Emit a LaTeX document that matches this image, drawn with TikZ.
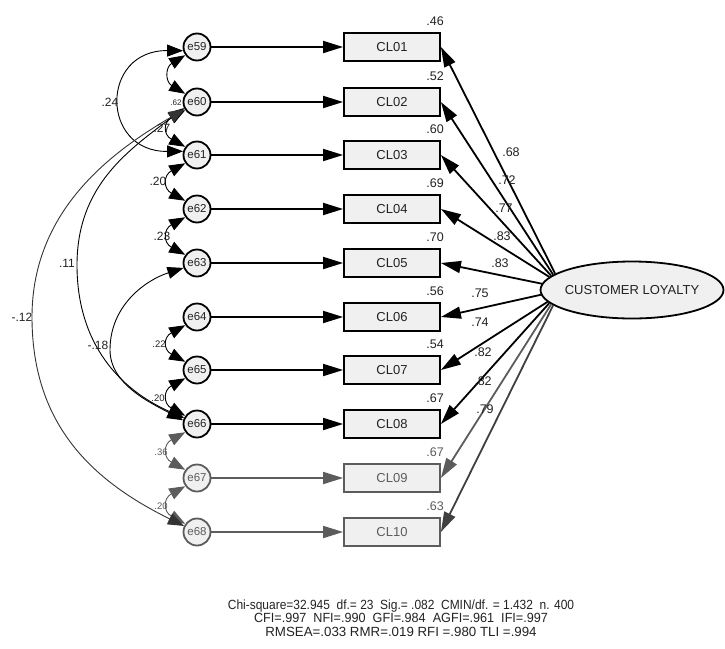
\documentclass[tikz,border=0pt]{standalone}
\usepackage{fontspec}
\setmainfont{Liberation Sans}
\usetikzlibrary{arrows.meta,shapes.geometric,calc}
\definecolor{boxfill}{HTML}{F0F0F0}
\definecolor{fade}{HTML}{5C5C5C}
\definecolor{txt}{HTML}{222222}
\begin{document}
\begin{tikzpicture}[x=1pt,y=-1pt,
  errc/.style={circle,draw,line width=1.8pt,fill=boxfill,minimum size=27pt,inner sep=0pt,text=txt,font=\fontsize{11.5}{12}\selectfont},
  obsbox/.style={rectangle,draw,line width=1.8pt,fill=boxfill,minimum width=96pt,minimum height=28pt,inner sep=0pt,text=txt,font=\fontsize{13}{14}\selectfont},
  reg/.style={line width=1.8pt,-{Triangle[length=20pt,width=12pt]}},
  cov/.style={line width=0.9pt,{Triangle[length=16pt,width=12pt]}-{Triangle[length=16pt,width=12pt]}},
  lab/.style={font=\fontsize{12.5}{13}\selectfont,inner sep=0pt,text=txt},
  clab/.style={font=\fontsize{12}{12}\selectfont,inner sep=0pt,text=txt},
  slab/.style={font=\fontsize{9.5}{10}\selectfont,inner sep=0pt,text=txt},
]
\useasboundingbox (0,0) rectangle (725,648);

% small hidden label
\node[font=\fontsize{8}{9}\selectfont,inner sep=0pt,text=txt] (l62) at (176,103) {.62};

% error circles
\node[errc] (e59) at (197,47) {e59};
\node[errc] (e60) at (197,102) {e60};
\node[errc] (e61) at (197,155) {e61};
\node[errc] (e62) at (197,209) {e62};
\node[errc] (e63) at (197,263) {e63};
\node[errc] (e64) at (197,317) {e64};
\node[errc] (e65) at (197,370) {e65};
\node[errc] (e66) at (197,424) {e66};
\node[errc,draw=fade,text=fade] (e67) at (197,478) {e67};
\node[errc,draw=fade,text=fade] (e68) at (197,532) {e68};

% observed boxes
\node[obsbox] (c1) at (392,47) {CL01};
\node[obsbox] (c2) at (392,102) {CL02};
\node[obsbox] (c3) at (392,155) {CL03};
\node[obsbox] (c4) at (392,209) {CL04};
\node[obsbox] (c5) at (392,263) {CL05};
\node[obsbox] (c6) at (392,317) {CL06};
\node[obsbox] (c7) at (392,370) {CL07};
\node[obsbox] (c8) at (392,424) {CL08};
\node[obsbox,draw=fade,text=fade] (c9) at (392,478) {CL09};
\node[obsbox,draw=fade,text=fade] (c10) at (392,532) {CL10};

% latent
\node[ellipse,draw,line width=1.8pt,fill=boxfill,minimum width=183pt,minimum height=57pt,inner sep=0pt,text=txt,font=\fontsize{13}{14}\selectfont] (cl) at (632,290) {\makebox[0pt]{CUSTOMER LOYALTY}};

% error paths
\draw[reg] (e59) -- (c1);
\draw[reg] (e60) -- (c2);
\draw[reg] (e61) -- (c3);
\draw[reg] (e62) -- (c4);
\draw[reg] (e63) -- (c5);
\draw[reg] (e64) -- (c6);
\draw[reg] (e65) -- (c7);
\draw[reg] (e66) -- (c8);
\draw[reg,fade] (e67) -- (c9);
\draw[reg,fade] (e68) -- (c10);

% loadings
\draw[reg] (cl.168) -- (c1.east);
\draw[reg] (cl.169) -- (c2.east);
\draw[reg] (cl.170) -- (c3.east);
\draw[reg] (cl.171) -- (c4.east);
\draw[reg] (cl.176) -- (c5.east);
\draw[reg] (cl.183) -- (c6.east);
\draw[reg] (cl.188) -- (c7.east);
\draw[reg] (cl.189) -- (c8.east);
\draw[reg,fade] (cl.190) -- (c9.east);
\draw[reg,black!75] (cl.191) -- (c10.east);

% squared multiple correlations
\node[lab,anchor=east] (v1) at (444,21) {.46};
\node[lab,anchor=east] (v2) at (444,76) {.52};
\node[lab,anchor=east] (v3) at (444,129) {.60};
\node[lab,anchor=east] (v4) at (444,183) {.69};
\node[lab,anchor=east] (v5) at (444,237) {.70};
\node[lab,anchor=east] (v6) at (444,291) {.56};
\node[lab,anchor=east] (v7) at (444,344) {.54};
\node[lab,anchor=east] (v8) at (444,398) {.67};
\node[lab,anchor=east,text=fade] (v9) at (444,452) {.67};
\node[lab,anchor=east,text=fade] (v10) at (444,506) {.63};

% loading labels
\node[lab] (w1) at (511,152) {.68};
\node[lab] (w2) at (507,180) {.72};
\node[lab] (w3) at (504,208) {.77};
\node[lab] (w4) at (502,236) {.83};
\node[lab] (w5) at (500,263) {.83};
\node[lab] (w6) at (480,293) {.75};
\node[lab] (w7) at (480,322) {.74};
\node[lab] (w8) at (483,352) {.82};
\node[lab] (w9) at (483,381) {.82};
\node[lab] (w10) at (485,409) {.79};

% short covariances
\draw[cov] (e59.215) .. controls ($(e59.215)+(-20,12)$) and ($(e60.145)+(-20,-12)$) .. (e60.145);
\draw[cov] (e60.215) .. controls ($(e60.215)+(-22,12)$) and ($(e61.145)+(-22,-12)$) .. (e61.145);
\draw[cov] (e61.215) .. controls ($(e61.215)+(-22,12)$) and ($(e62.145)+(-22,-12)$) .. (e62.145);
\draw[cov] (e62.215) .. controls ($(e62.215)+(-22,12)$) and ($(e63.145)+(-22,-12)$) .. (e63.145);
\draw[cov] (e64.215) .. controls ($(e64.215)+(-22,12)$) and ($(e65.145)+(-22,-12)$) .. (e65.145);
\draw[cov] (e65.215) .. controls ($(e65.215)+(-22,12)$) and ($(e66.145)+(-22,-12)$) .. (e66.145);
\draw[cov,fade] (e66.215) .. controls ($(e66.215)+(-22,12)$) and ($(e67.145)+(-22,-12)$) .. (e67.145);
\draw[cov,fade] (e67.215) .. controls ($(e67.215)+(-22,12)$) and ($(e68.145)+(-22,-12)$) .. (e68.145);

% long covariances
\draw[cov] (e59.195) .. controls (100,50) and (100,152) .. (e61.165);
\draw[cov] (e60.205) .. controls (129,150) and (77,185) .. (77,265) .. controls (77,345) and (121,390) .. (e66.155);
\draw[cov,black!80] (e60.210) .. controls (117,149) and (32,207) .. (32,317) .. controls (32,427) and (95,482) .. (e68.155);
\draw[cov] (e63.200) .. controls (146,280) and (110,305) .. (110,350) .. controls (110,385) and (153,404) .. (e66.165);

% covariance labels
\node[clab] (k24) at (110,102) {.24};
\node[clab] (k27) at (162,128) {.27};
\node[clab] (k20a) at (158,181) {.20};
\node[clab] (k23) at (162,236) {.23};
\node[clab] (k11) at (67,263) {.11};
\node[clab] (k12) at (22,317) {-.12};
\node[clab] (k18) at (98,345) {-.18};
\node[slab] (k22) at (159,344) {.22};
\node[slab] (k20b) at (158,398) {.20};
\node[slab,text=fade] (k36) at (161,452) {.36};
\node[slab,text=fade] (k20c) at (161,506) {.20};

% fit statistics
\node[font=\fontsize{13.3}{13.3}\selectfont,align=center,text=txt,inner sep=0pt] (fit) at (401,618)
 {\scalebox{0.9}[1]{Chi-square=32.945\ \ df.= 23\ \ Sig.= .082\ \ CMIN/df. = 1.432\ \ n. 400}\\
  \scalebox{0.95}[1]{CFI=.997\ \ NFI=.990\ \ GFI=.984\ \ AGFI=.961\ \ IFI=.997}\\
  RMSEA=.033 RMR=.019 RFI =.980 TLI =.994};
\end{tikzpicture}
\end{document}
